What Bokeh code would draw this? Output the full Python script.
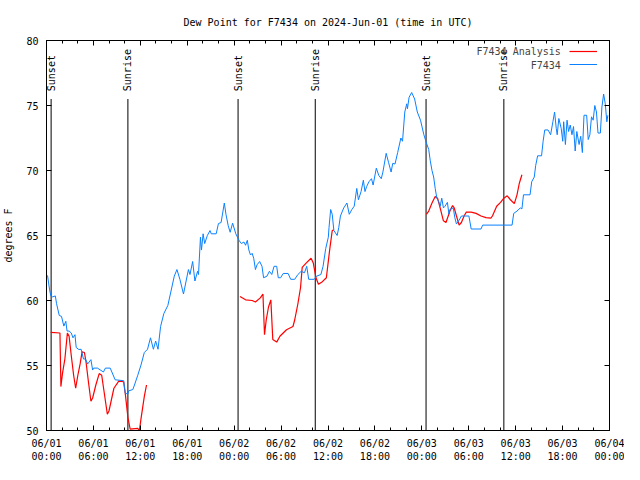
import numpy as np
from bokeh.plotting import figure
from bokeh.models import FixedTicker, LinearAxis, Range1d, Legend, LegendItem
from bokeh.embed import file_html
from bokeh.resources import INLINE
from bokeh.core.properties import value

TITLE = "Dew Point for F7434 on 2024-Jun-01 (time in UTC)"
Y_LABEL = "degrees F"
SERIES_NAMES = ["F7434 Analysis", "F7434"]

X_TICKS = [0, 6, 12, 18, 24, 30, 36, 42, 48, 54, 60, 66, 72]
X_MINOR = list(range(0, 73, 2))
X_TICK_LABELS = ["06/01\n00:00", "06/01\n06:00", "06/01\n12:00", "06/01\n18:00",
                 "06/02\n00:00", "06/02\n06:00", "06/02\n12:00", "06/02\n18:00",
                 "06/03\n00:00", "06/03\n06:00", "06/03\n12:00", "06/03\n18:00",
                 "06/04\n00:00"]
Y_TICKS = [50, 55, 60, 65, 70, 75, 80]

# F7434 observations (hours since 06/01 00:00 UTC, dew point degF)
OBS_HOURS = [0.13, 0.38, 0.54, 0.79, 1.13, 1.29, 1.63, 1.92, 2.22, 2.47,
             2.63, 2.89, 3.17, 3.39, 3.64, 3.80, 4.14, 4.43, 4.73, 4.98,
             5.27, 5.68, 5.90, 6.02, 6.52, 7.28, 7.53, 8.15, 8.78, 9.87,
             10.07, 10.41, 10.50, 11.04, 11.25, 11.67, 12.08, 12.51, 12.92, 13.30,
             13.67, 13.96, 14.26, 14.59, 15.01, 15.52, 15.84, 16.34, 16.68, 17.06,
             17.52, 18.15, 18.35, 18.69, 18.98, 19.32, 19.44, 19.69, 19.82, 20.03,
             20.23, 20.57, 20.91, 21.07, 21.70, 21.99, 22.33, 22.74, 22.95, 23.24,
             23.49, 23.80, 24.21, 24.62, 24.92, 25.25, 25.46, 25.68, 25.88, 26.09,
             26.30, 26.50, 26.72, 26.93, 27.26, 27.56, 27.76, 28.19, 28.51, 28.81,
             29.10, 29.44, 29.64, 29.94, 30.27, 30.90, 31.23, 31.74, 32.15, 32.58,
             32.99, 33.28, 33.53, 34.24, 34.53, 35.09, 35.37, 35.71, 36.04, 36.13,
             36.34, 36.54, 36.75, 37.17, 37.38, 37.59, 38.01, 38.42, 38.72, 39.05,
             39.35, 39.68, 39.89, 40.23, 40.52, 40.73, 40.93, 41.23, 41.56, 41.77,
             42.18, 42.49, 42.81, 43.02, 43.44, 43.74, 44.07, 44.28, 44.57, 44.91,
             45.32, 45.53, 45.82, 46.07, 46.16, 46.37, 46.70, 47.08, 47.42, 47.83,
             48.26, 48.58, 48.88, 49.08, 49.30, 49.51, 49.71, 49.92, 50.14, 50.34,
             50.55, 50.76, 50.96, 51.27, 51.47, 51.59, 52.02, 52.22, 52.43, 52.77,
             53.06, 54.02, 54.31, 55.57, 55.78, 59.54, 59.75, 60.17, 60.59, 60.80,
             61.00, 61.84, 62.05, 62.38, 62.56, 62.81, 63.31, 63.51, 63.72, 64.14,
             64.47, 64.76, 64.98, 65.19, 65.31, 65.52, 65.82, 66.02, 66.14, 66.36,
             66.57, 66.77, 66.98, 67.20, 67.40, 67.61, 67.82, 68.11, 68.32, 68.53,
             68.74, 69.08, 69.28, 69.49, 69.70, 69.91, 70.12, 70.33, 70.53, 70.83,
             71.03, 71.25, 71.46, 71.66, 71.79]
OBS_DEWPT = [61.93, 60.88, 60.37, 60.28, 60.35, 59.75, 58.85, 58.78, 58.03, 58.40,
             57.65, 57.65, 57.50, 57.13, 57.37, 56.38, 56.23, 56.25, 55.50, 55.50,
             55.12, 55.45, 54.65, 54.80, 54.80, 54.50, 54.80, 54.80, 53.90, 53.83,
             52.87, 52.80, 53.05, 53.15, 53.50, 54.25, 55.03, 56.00, 56.25, 57.13,
             56.25, 56.88, 56.25, 58.00, 59.00, 59.62, 60.50, 61.87, 62.38, 61.63,
             60.50, 62.38, 62.00, 63.00, 61.50, 62.25, 62.00, 64.87, 63.88, 65.13,
             64.38, 65.00, 65.38, 65.13, 65.13, 65.92, 66.00, 67.50, 66.63, 65.75,
             65.25, 65.95, 65.13, 64.63, 64.38, 64.50, 64.25, 64.63, 63.88, 63.50,
             63.63, 63.25, 62.38, 62.75, 63.00, 62.63, 61.75, 61.87, 62.25, 62.00,
             62.63, 62.63, 61.75, 61.75, 62.08, 62.08, 61.63, 61.63, 62.00, 62.25,
             62.13, 62.63, 61.63, 61.63, 61.87, 62.00, 62.63, 64.00, 64.87, 65.62,
             67.00, 66.63, 65.38, 65.00, 65.62, 66.50, 67.12, 67.50, 66.63, 67.00,
             67.25, 68.62, 67.75, 68.38, 69.25, 68.38, 68.75, 69.13, 69.37, 68.88,
             70.18, 69.63, 69.37, 69.88, 71.32, 70.63, 69.88, 70.55, 70.50, 71.38,
             72.50, 72.25, 74.50, 75.13, 74.75, 75.63, 76.00, 75.50, 74.50, 73.87,
             72.75, 72.13, 71.62, 70.75, 70.00, 69.50, 68.62, 67.87, 67.63, 67.25,
             67.87, 67.12, 67.25, 67.55, 66.63, 67.00, 67.12, 66.37, 65.88, 66.18,
             66.50, 66.50, 65.50, 65.50, 65.80, 65.80, 66.70, 66.88, 67.12, 67.05,
             68.13, 68.13, 69.13, 69.50, 70.38, 71.13, 71.13, 72.25, 73.12, 73.12,
             72.75, 73.75, 74.50, 73.25, 72.75, 74.00, 73.25, 72.25, 73.75, 72.00,
             73.87, 73.00, 73.50, 72.75, 73.38, 71.50, 73.00, 72.00, 72.63, 71.38,
             74.25, 74.25, 72.38, 72.75, 74.13, 73.87, 75.00, 74.50, 72.88, 72.88,
             74.88, 75.88, 75.13, 73.75, 74.25]

# F7434 analysis, three separate runs (NaN = gap)
NAN = float("nan")
ANA_HOURS = [0.54, 1.72, 1.84, 2.04, 2.35, 2.67, 2.89, 3.17, 3.47, 3.73,
             4.01, 4.30, 4.55, 4.85, 5.06, 5.36, 5.68, 5.90, 6.31, 6.74,
             7.06, 7.36, 7.78, 7.99, 8.62, 9.24, 9.87, 10.10, 10.41, 10.70,
             11.67, 11.88, 12.08, 12.51, 12.79,
             NAN,
             24.75, 25.46, 26.30, 26.72, 27.34, 27.68, 27.88, 28.10, 28.39, 28.69,
             28.94, 29.44, 29.85, 30.69, 31.52, 31.74, 32.15, 32.49, 32.70, 33.20,
             33.83, 34.12, 34.46, 34.78, 35.28, 35.79, 36.21, 36.54, 36.75,
             NAN,
             48.58, 48.88, 49.30, 49.71, 50.01, 50.34, 50.76, 51.09, 51.59, 51.93,
             52.14, 52.43, 52.77, 53.06, 53.40, 53.69, 54.31, 54.94, 55.57, 56.20,
             56.82, 57.03, 57.57, 58.07, 58.49, 58.92, 59.33, 59.83, 60.17, 60.46,
             60.80]
ANA_DEWPT = [57.55, 57.50, 53.38, 54.37, 55.50, 57.50, 57.25, 55.75, 54.25, 53.25,
             54.25, 55.12, 56.05, 56.00, 55.25, 53.75, 52.25, 52.50, 53.50, 54.38,
             54.25, 53.00, 51.25, 51.50, 53.25, 53.80, 53.75, 52.70, 51.00, 50.10,
             50.17, 50.00, 50.88, 52.63, 53.50,
             NAN,
             60.30, 60.05, 60.00, 59.88, 60.20, 60.50, 57.37, 58.50, 59.50, 60.05,
             57.00, 56.80, 57.25, 57.75, 58.00, 58.50, 59.75, 61.00, 62.55, 62.88,
             63.25, 62.88, 61.75, 61.25, 61.45, 61.75, 63.88, 65.38, 65.43,
             NAN,
             66.63, 66.88, 67.50, 68.00, 67.87, 67.12, 66.13, 66.00, 66.88, 67.30,
             67.12, 66.50, 65.80, 66.00, 66.50, 66.80, 66.80, 66.70, 66.50, 66.37,
             66.33, 66.50, 67.25, 67.55, 67.87, 68.05, 67.75, 67.45, 68.13, 69.00,
             69.67]

SUN_HOURS = [0.59, 10.41, 24.50, 34.37, 48.54, 58.49]
SUN_LABELS = ["Sunset", "Sunrise", "Sunset", "Sunrise", "Sunset", "Sunrise"]

FONT = "DejaVu Sans Mono"
BLUE = "#0a80ff"
RED = "#ff0000"
Y_MIN, Y_MAX = Y_TICKS[0], Y_TICKS[-1]

p = figure(width=624, height=464, output_backend="svg", toolbar_location=None,
           x_range=Range1d(X_TICKS[0], X_TICKS[-1]), y_range=Range1d(Y_MIN, Y_MAX),
           min_border_left=45, min_border_right=15, min_border_top=40,
           min_border_bottom=30, title=TITLE)
p.grid.visible = False
p.outline_line_color = "black"
p.outline_line_width = 1
p.background_fill_color = "white"
p.border_fill_color = "white"

p.title.align = "center"
p.title.vertical_align = "top"
p.title.text_font = FONT
p.title.text_font_size = "10px"
p.title.text_font_style = "normal"
p.title.text_color = "black"
p.title.standoff = 21

xt = FixedTicker(ticks=X_TICKS, minor_ticks=X_MINOR)
yt = FixedTicker(ticks=Y_TICKS, minor_ticks=[])


def style(ax, ticker):
    ax.ticker = ticker
    ax.axis_line_color = "black"
    ax.major_tick_line_color = "black"
    ax.minor_tick_line_color = "black"
    ax.major_tick_in = 5
    ax.major_tick_out = 0
    ax.minor_tick_in = 3
    ax.minor_tick_out = 0
    ax.major_label_text_font = FONT
    ax.major_label_text_font_size = "10px"
    ax.major_label_text_color = "black"
    ax.axis_label_text_font = FONT
    ax.axis_label_text_font_size = "10px"
    ax.axis_label_text_font_style = "normal"
    ax.axis_label_text_color = "black"


xa = p.xaxis[0]
style(xa, xt)
xa.major_label_overrides = {t: lbl for t, lbl in zip(X_TICKS, X_TICK_LABELS)}
xa.major_label_standoff = 7

ya = p.yaxis[0]
style(ya, yt)
ya.axis_label = Y_LABEL
ya.axis_label_standoff = 9
ya.major_label_standoff = 8

# mirrored tick marks on top and right (no labels, like gnuplot "mirror")
ax_top = LinearAxis()
style(ax_top, xt)
ax_top.major_label_overrides = {t: "" for t in X_TICKS}
ax_top.major_label_standoff = 0
p.add_layout(ax_top, "above")
ax_right = LinearAxis()
style(ax_right, yt)
ax_right.major_label_overrides = {t: "" for t in Y_TICKS}
ax_right.major_label_standoff = 0
p.add_layout(ax_right, "right")

n = len(SUN_HOURS)
sun_top = Y_MIN + 0.85 * (Y_MAX - Y_MIN)
sun_text = Y_MIN + 0.87 * (Y_MAX - Y_MIN)
p.segment(x0=SUN_HOURS, y0=[Y_MIN] * n, x1=SUN_HOURS, y1=[sun_top] * n,
          line_color="black", line_width=1)
p.text(x=SUN_HOURS, y=[sun_text] * n, text=SUN_LABELS, angle=np.pi / 2,
       text_align="left", text_baseline="middle", text_font=value(FONT),
       text_font_size="10px", text_color="black")

r_ana = p.line(ANA_HOURS, ANA_DEWPT, line_color=RED, line_width=1.2)
r_obs = p.line(OBS_HOURS, OBS_DEWPT, line_color=BLUE, line_width=1)

# gnuplot-style key: right-aligned labels, then the line samples to their right
NB = "\u00a0"
width_chars = max(len(s) for s in SERIES_NAMES)
key_labels = [NB * (width_chars - len(s)) + s + NB * 7 for s in SERIES_NAMES]
common = dict(location="top_right", background_fill_alpha=0, border_line_alpha=0,
              label_text_font=FONT, label_text_font_size="10px",
              glyph_height=10, label_height=10, spacing=3, padding=2, margin=4)
key_text = Legend(items=[LegendItem(label=key_labels[0], renderers=[r_ana]),
                         LegendItem(label=key_labels[1], renderers=[r_obs])],
                  glyph_width=0, label_standoff=0, **common)
key_lines = Legend(items=[LegendItem(label="", renderers=[r_ana]),
                          LegendItem(label="", renderers=[r_obs])],
                   glyph_width=28, label_standoff=6, label_width=0, **common)
p.add_layout(key_text)
p.add_layout(key_lines)

open("out.html", "w").write(file_html(p, INLINE))
